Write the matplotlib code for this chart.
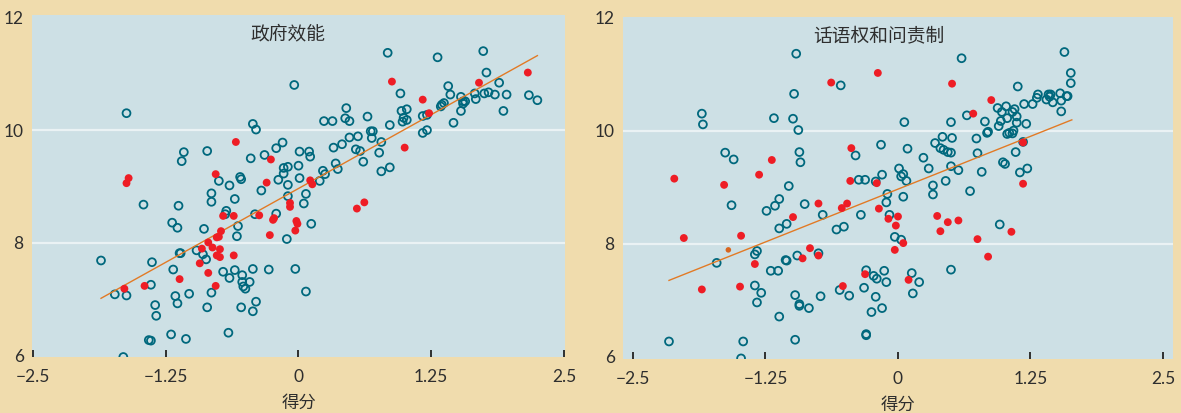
import matplotlib
matplotlib.use("Agg")
import matplotlib.pyplot as plt

plt.rcParams['font.family'] = ['Lato', 'Noto Sans CJK SC', 'DejaVu Sans']

# 政府效能：普通国家（空心）与重点国家（实心）
ge_open_x = [-0.04, -1.62, -0.43, -0.40, -0.15, -0.21, 0.01, -1.08, -1.10, -0.86, -0.45, -0.32, -0.75, -0.55, -0.54,
             -0.65, -0.14, -0.10, -0.14, -0.19, -0.10, 0.00, 0.01, -0.82, -0.82, -0.60, -0.35, -0.10, -1.46, -1.13,
             -0.68, -0.69, -0.41, -0.21, -1.19, -1.14, -0.89, -0.57, -0.58, -0.11, -0.96, -0.90, -0.87, -1.12, -1.11,
             -1.86, -1.38, -1.18, -0.71, -0.60, -0.53, -0.65, -0.43, -0.28, -0.03, -0.53, -0.46, -0.52, -0.50, -1.39,
             -0.82, -1.03, -1.73, -1.62, -1.16, -1.14, -1.35, -0.40, -0.43, -0.54, -0.86, -1.34, -0.66, -1.20, -1.06,
             -1.41, -1.39, -1.65,
             0.84, 1.31, 1.74, 1.77, 1.89, 0.96, 1.41, 1.43, 1.53, 1.66, 1.67, 1.75, 1.79, 1.85, 1.96, 2.17, 2.25,
             1.93, 1.55, 1.57, 1.55, 1.53, 1.37, 1.35, 1.34, 1.21, 1.17, 1.46, 1.17, 1.21, 0.97, 1.02, 0.99, 1.02,
             0.98, 0.86, 0.45, 0.44, 0.48, 0.65, 0.24, 0.32, 0.68, 0.70, 0.69, 0.78, 0.48, 0.56, 0.41, 0.33, 0.54,
             0.58, 0.76, 0.61, 0.10, 0.11, 0.35, 0.37, 0.23, 0.25, 0.20, 0.78, 0.86, 0.07, 0.05, 0.12, 0.07]
ge_open_y = [10.80, 10.30, 10.11, 10.01, 9.78, 9.68, 9.62, 9.61, 9.45, 9.63, 9.50, 9.56, 9.10, 9.17, 9.13,
             9.02, 9.33, 9.35, 9.23, 9.12, 9.03, 9.37, 9.15, 8.88, 8.73, 8.78, 8.93, 8.83, 8.68, 8.66,
             8.57, 8.51, 8.51, 8.52, 8.36, 8.27, 8.25, 8.30, 8.12, 8.07, 7.87, 7.80, 7.71, 7.82, 7.82,
             7.69, 7.66, 7.53, 7.49, 7.52, 7.43, 7.38, 7.54, 7.53, 7.54, 7.31, 7.31, 7.23, 7.19, 7.26,
             7.12, 7.10, 7.09, 7.07, 7.06, 6.93, 6.90, 6.96, 6.79, 6.86, 6.86, 6.71, 6.41, 6.38, 6.30,
             6.28, 6.27, 5.98,
             11.37, 11.29, 11.40, 11.02, 10.84, 10.65, 10.78, 10.63, 10.59, 10.65, 10.55, 10.65, 10.67, 10.63, 10.63,
             10.62, 10.53, 10.34, 10.51, 10.51, 10.47, 10.34, 10.48, 10.45, 10.42, 10.27, 10.25, 10.13, 9.95, 10.00,
             10.34, 10.37, 10.22, 10.18, 10.15, 10.09, 10.39, 10.21, 10.16, 10.24, 10.16, 10.16, 9.98, 9.98, 9.86,
             9.79, 9.87, 9.89, 9.75, 9.69, 9.66, 9.63, 9.60, 9.44, 9.62, 9.53, 9.41, 9.31, 9.28, 9.22, 9.10,
             9.27, 9.34, 8.87, 8.70, 8.34, 7.14]
ge_red_x = [-0.59, -0.26, -1.60, -1.62, -0.78, -0.30, -0.08, -0.08, -0.71, -0.61, -0.37, -0.73, -0.77, -0.75,
            -0.24, -0.23, -0.27, -0.02, -0.01, -0.03, -0.85, -0.81, -0.91, -0.74, -0.77, -0.74, -0.61, -0.93,
            -0.85, -1.12, -0.78, -1.64, -1.45, 2.16, 1.70, 0.88, 1.17, 1.23, 1.00, 0.11, 0.13, 0.62, 0.55]
ge_red_y = [9.79, 9.48, 9.15, 9.06, 9.22, 9.07, 8.71, 8.64, 8.48, 8.48, 8.49, 8.21, 8.10, 8.11,
            8.41, 8.44, 8.14, 8.39, 8.34, 8.22, 8.01, 7.92, 7.90, 7.89, 7.78, 7.75, 7.78, 7.64,
            7.47, 7.36, 7.24, 7.19, 7.24, 11.02, 10.84, 10.86, 10.54, 10.30, 9.69, 9.11, 9.04, 8.72, 8.61]
ge_fit_x = [-1.86, 2.25]
ge_fit_y = [7.02, 11.32]

# 话语权和问责制
va_open_x = [-0.96, -0.98, -0.54, -1.85, -1.84, -1.17, -0.99, -0.94, -1.63, -1.55, -0.93, -0.92, -1.03, -0.40,
             -0.16, -0.37, -0.31, -0.21, -0.15, -0.10, -0.11, -1.57, -1.12, -1.16, -1.24, -0.88,
             -0.71, -1.05, -1.12, -0.58, -0.51, -0.35, -0.08, -1.71, -1.35, -1.33, -1.06, -1.05, -0.95, -0.75,
             -1.20, -1.13, -1.35, -1.29, -1.33, -0.97, -0.93, -0.93, -0.84, -0.73, -0.55, -0.46, -1.12, -0.97,
             -2.16, -1.46, -1.48, -0.30, -0.23, -0.20, -0.13, -0.11, -0.32, -0.21, -0.15, -0.25, -0.30, -0.30,
             0.60, 1.57, 1.63, 1.63, 1.13, 0.65, 0.06, 0.50,
             1.32, 1.31, 1.40, 1.42, 1.44, 1.43, 1.46, 1.53, 1.54, 1.60, 1.59, 1.54, 1.27, 1.19,
             0.94, 1.02, 0.98, 1.08, 1.10, 1.03, 0.97, 1.12, 1.12, 1.21, 0.95, 1.05, 1.03, 1.09, 1.08, 0.85,
             0.84, 0.82, 0.74, 1.18, 1.11, 0.99, 1.01, 1.15, 1.22, 0.75,
             0.35, 0.42, 0.51, 0.40, 0.43, 0.47, 0.50, 0.09, 0.24, 0.29, 0.01, 0.05, 0.03, 0.08, 0.50, 0.57,
             0.79, 0.45, 0.33, 0.33, 0.68, 0.05,
             0.96, -0.03, 0.03, 0.13, 0.20, 0.14, 0.50]
va_open_y = [11.36, 10.65, 10.80, 10.30, 10.11, 10.22, 10.21, 10.01, 9.61, 9.49, 9.62, 9.44, 9.02, 9.56,
             9.75, 9.13, 9.13, 9.10, 9.22, 8.88, 8.73, 8.68, 8.79, 8.67, 8.58, 8.70,
             8.51, 8.35, 8.27, 8.25, 8.30, 8.51, 8.51, 7.66, 7.81, 7.87, 7.71, 7.70, 7.79, 7.83,
             7.52, 7.52, 7.26, 7.13, 6.96, 7.09, 6.93, 6.90, 6.86, 7.07, 7.18, 7.08, 6.71, 6.30,
             6.27, 6.27, 5.97, 7.53, 7.43, 7.38, 7.52, 7.32, 7.22, 7.06, 6.86, 6.79, 6.40, 6.38,
             11.28, 11.39, 11.02, 10.84, 10.78, 10.27, 10.15, 10.15,
             10.64, 10.58, 10.55, 10.64, 10.64, 10.60, 10.50, 10.66, 10.53, 10.61, 10.61, 10.34, 10.47, 10.47,
             10.40, 10.43, 10.33, 10.33, 10.38, 10.22, 10.17, 10.25, 10.14, 10.12, 10.08, 9.96, 9.94, 10.00, 9.95, 9.98,
             9.96, 10.16, 9.86, 9.80, 9.62, 9.44, 9.41, 9.26, 9.33, 9.60,
             9.78, 9.89, 9.87, 9.69, 9.66, 9.62, 9.61, 9.68, 9.52, 9.33, 9.33, 9.23, 9.19, 9.11, 9.37, 9.30,
             9.27, 9.11, 9.03, 8.87, 8.93, 8.83,
             8.34, 8.12, 8.07, 7.48, 7.32, 7.12, 7.54]
va_red_x = [-0.63, -0.19, -1.19, -1.31, -2.11, -1.64, -0.44, -0.45, -0.20, -0.75, -0.48, -0.53, -0.18, -0.99,
            -0.09, -2.02, -1.48, -1.85, -1.49, -1.35, -0.83, -0.90, -0.75, -0.52, -0.31, 0.51, 0.88, 0.71,
            1.18, 1.18, 0.00, -0.02, 0.37, 0.47, 0.57, 0.40, 1.07, 0.75, 0.85, 0.05, -0.03, 0.10]
va_red_y = [10.85, 11.02, 9.48, 9.22, 9.15, 9.04, 9.69, 9.11, 9.07, 8.71, 8.71, 8.63, 8.62, 8.47,
            8.44, 8.10, 8.14, 7.19, 7.24, 7.64, 7.92, 7.74, 7.79, 7.25, 7.46, 10.83, 10.54, 10.30,
            9.79, 9.06, 8.48, 8.32, 8.49, 8.38, 8.41, 8.22, 8.21, 8.08, 7.77, 8.01, 7.89, 7.36]
va_small_x = [-1.60]
va_small_y = [7.89]
va_fit_x = [-2.16, 1.64]
va_fit_y = [7.35, 10.19]

x_ticks = [-2.5, -1.25, 0, 1.25, 2.5]
x_tick_labels = ['\u22122.5', '\u22121.25', '0', '1.25', '2.5']
y_ticks = [6, 8, 10, 12]
y_tick_labels = ['6', '8', '10', '12']

BG = '#F0DCAD'
FACE = '#CDE0E5'
TEAL = '#00687D'
RED = '#EE1D25'
ORANGE = '#E27A25'
TXT = '#2E2E2E'


def draw_panel(ax, title, title_x, open_x, open_y, red_x, red_y, fit_x, fit_y, xlim, ylim):
    ax.set_facecolor(FACE)
    for s in ax.spines.values():
        s.set_visible(False)
    for g in [8, 10]:
        ax.axhline(g, color='#EAF2F4', lw=1.6, zorder=1)

    ax.scatter(open_x, open_y, s=32, facecolors='none', edgecolors=TEAL, linewidths=1.3, zorder=2)
    ax.plot(fit_x, fit_y, color=ORANGE, lw=1.0, zorder=3)
    ax.scatter(red_x, red_y, s=32, color=RED, edgecolors='none', zorder=4)

    ax.set_xlim(*xlim)
    ax.set_ylim(*ylim)
    ax.set_xticks(x_ticks)
    ax.set_xticklabels(x_tick_labels)
    ax.set_yticks(y_ticks)
    ax.set_yticklabels(y_tick_labels)
    ax.tick_params(axis='x', direction='in', length=5, width=1.3, color='#222222',
                   labelsize=12.5, labelcolor=TXT, pad=9)
    ax.tick_params(axis='y', length=0, labelsize=12.5, labelcolor=TXT, pad=6)

    ax.text(title_x, 0.945, title, transform=ax.transAxes, ha='center', va='center',
            fontsize=13.5, color=TXT, family=['Noto Sans CJK SC'])
    ax.set_xlabel('得分', fontsize=12.5, color=TXT, labelpad=6, family=['Noto Sans CJK SC'])


fig = plt.figure(figsize=(11.81, 4.13), dpi=100)
fig.patch.set_facecolor(BG)

ax1 = fig.add_axes([0.0271, 0.1356, 0.4513, 0.8281])
ax2 = fig.add_axes([0.5275, 0.1308, 0.4657, 0.8281])

draw_panel(ax1, '政府效能', 0.48, ge_open_x, ge_open_y, ge_red_x, ge_red_y,
           ge_fit_x, ge_fit_y, (-2.51, 2.51), (5.98, 12.04))
draw_panel(ax2, '话语权和问责制', 0.466, va_open_x, va_open_y, va_red_x, va_red_y,
           va_fit_x, va_fit_y, (-2.594, 2.594), (5.96, 12.01))
ax2.scatter(va_small_x, va_small_y, s=16, color='#D9651E', edgecolors='none', zorder=4)

fig.savefig('out.png', dpi=100, facecolor=BG)
